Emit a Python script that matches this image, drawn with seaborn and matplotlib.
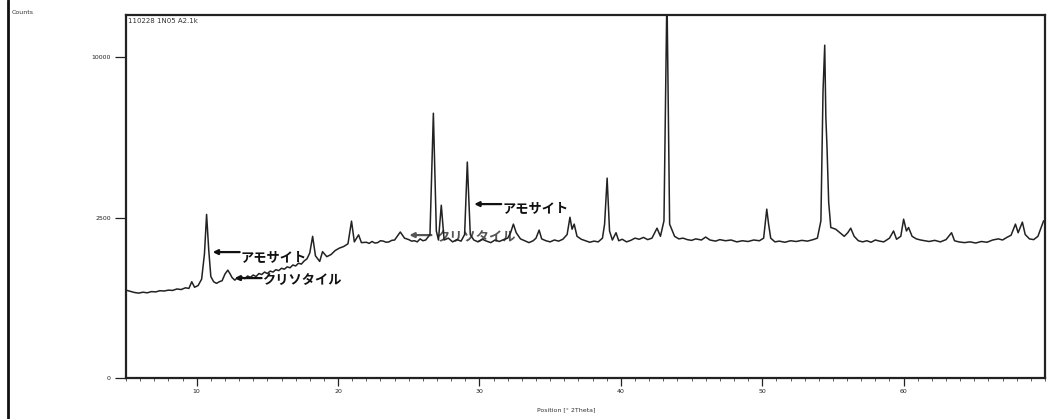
import numpy as np
import pandas as pd
import matplotlib
matplotlib.use("Agg")
import matplotlib.pyplot as plt
import seaborn as sns

# ---- data ----
two_theta = [5.0, 5.3, 5.6, 5.9, 6.2, 6.5, 6.8, 7.1, 7.4, 7.7, 8.0, 8.3, 8.6, 8.9, 9.2, 9.45, 9.65, 9.85,
             10.1, 10.35, 10.55, 10.7, 10.85, 11.0, 11.2, 11.4, 11.6, 11.8, 12.0, 12.2, 12.35, 12.5, 12.7,
             12.85, 13.0, 13.2, 13.4, 13.6, 13.8, 14.0, 14.2, 14.4, 14.6, 14.8, 15.0, 15.2, 15.4, 15.6,
             15.8, 16.0, 16.2, 16.4, 16.6, 16.8, 17.0, 17.2, 17.4, 17.6, 17.8, 18.0, 18.2, 18.4, 18.7, 18.9,
             19.2, 19.5, 19.8, 20.1, 20.4, 20.7, 20.95, 21.15, 21.45, 21.65, 22.0, 22.2, 22.4, 22.6, 22.8,
             23.0, 23.2, 23.4, 23.6, 23.8, 24.0, 24.4, 24.7, 25.0, 25.2, 25.4, 25.6, 25.8, 26.0, 26.2, 26.5,
             26.74, 26.95, 27.1, 27.3, 27.5, 27.8, 28.1, 28.4, 28.7, 28.95, 29.14, 29.35, 29.6, 29.9, 30.2,
             30.5, 30.8, 31.1, 31.4, 31.7, 32.0, 32.2, 32.4, 32.6, 32.9, 33.2, 33.5, 33.8, 34.0, 34.22, 34.4,
             34.7, 35.0, 35.3, 35.6, 35.9, 36.2, 36.4, 36.55, 36.7, 36.9, 37.2, 37.5, 37.8, 38.1, 38.4, 38.7,
             38.85, 39.03, 39.2, 39.4, 39.66, 39.85, 40.1, 40.4, 40.7, 41.0, 41.3, 41.6, 41.9, 42.2, 42.56,
             42.8, 43.05, 43.26, 43.45, 43.8, 44.1, 44.4, 44.7, 45.0, 45.3, 45.7, 46.0, 46.3, 46.7, 47.0,
             47.4, 47.8, 48.2, 48.6, 49.0, 49.4, 49.8, 50.1, 50.32, 50.45, 50.6, 50.9, 51.2, 51.6, 52.0,
             52.4, 52.8, 53.2, 53.6, 53.9, 54.15, 54.3, 54.42, 54.5, 54.58, 54.7, 54.85, 55.0, 55.2, 55.5,
             55.8, 56.05, 56.26, 56.5, 56.8, 57.1, 57.4, 57.7, 58.0, 58.3, 58.6, 59.0, 59.29, 59.5, 59.8,
             60.0, 60.2, 60.35, 60.6, 60.9, 61.2, 61.5, 61.8, 62.2, 62.6, 63.0, 63.39, 63.6, 63.9, 64.3,
             64.7, 65.1, 65.5, 65.9, 66.3, 66.7, 67.0, 67.3, 67.6, 67.91, 68.1, 68.4, 68.6, 68.9, 69.2,
             69.5, 69.9]
counts = [750, 730, 710, 700, 715, 705, 725, 720, 740, 735, 750, 745, 770, 760, 790, 780, 900, 800,
          830, 950, 1500, 2600, 1600, 1000, 900, 870, 900, 920, 1050, 1130, 1060, 980, 930,
          970, 940, 990, 960, 1010, 985, 1030, 1000, 1060, 1040, 1090, 1060, 1110, 1090, 1140,
          1120, 1170, 1150, 1200, 1180, 1240, 1220, 1280, 1260, 1330, 1380, 1520, 1950, 1450, 1320, 1550,
          1430, 1480, 1580, 1640, 1680, 1750, 2390, 1800, 1990, 1780, 1790, 1760, 1810, 1770, 1780,
          1830, 1820, 1790, 1800, 1840, 1850, 2070, 1900, 1860, 1820, 1830, 1800, 1880, 1830, 1850, 2000,
          6810, 2100, 1850, 2900, 1850, 1900, 1800, 1860, 1820, 2000, 4530, 2000, 1850, 1800, 1870,
          1820, 1780, 1850, 1810, 1860, 1900, 2050, 2300, 2050, 1880, 1830, 1780, 1830, 1900, 2125, 1880,
          1830, 1800, 1850, 1820, 1870, 2000, 2510, 2150, 2300, 1950, 1870, 1830, 1790, 1820, 1800, 1900,
          2300, 3880, 2100, 1850, 2050, 1830, 1870, 1800, 1840, 1900, 1870, 1920, 1860, 1900, 2180,
          1950, 2400, 14500, 2300, 1950, 1880, 1900, 1860, 1840, 1880, 1850, 1930, 1850, 1820, 1860,
          1830, 1850, 1800, 1830, 1810, 1850, 1830, 1900, 2770, 2300, 1900, 1800, 1820, 1790, 1830,
          1810, 1840, 1820, 1860, 1900, 2400, 8000, 10760, 6600, 5200, 3000, 2200, 2180, 2150, 2050,
          1950, 2050, 2180, 1950, 1830, 1800, 1830, 1790, 1850, 1820, 1800, 1900, 2100, 1870, 1950,
          2450, 2100, 2200, 1950, 1880, 1850, 1830, 1810, 1840, 1800, 1860, 2050, 1830, 1800, 1780,
          1800, 1770, 1810, 1790, 1850, 1880, 1850, 1920, 1980, 2300, 2050, 2360, 2000, 1880, 1860,
          1950, 2400]

y_ticks = [0, 2500, 10000]
x_ticks = [10, 20, 30, 40, 50, 60]

df = pd.DataFrame({"two_theta": two_theta, "counts": counts})

sns.set_style("white")
plt.rcParams["font.family"] = ["DejaVu Sans"]
JP = ["Noto Sans CJK JP", "DejaVu Sans"]

fig = plt.figure(figsize=(10.47, 4.19), dpi=100)
ax = fig.add_axes([126 / 1047, 1 - 378 / 419, (1045 - 126) / 1047, (378 - 15) / 419])

sns.lineplot(data=df, x="two_theta", y="counts", ax=ax, color="#222222", linewidth=1.1, zorder=3)

ax.set_yscale("function", functions=(lambda v: np.sqrt(np.maximum(v, 0)), lambda v: np.square(v)))
ax.set_xlim(5, 70)
ax.set_ylim(0, 12800)
ax.set_yticks(y_ticks)
ax.set_yticklabels([str(t) for t in y_ticks])
ax.set_xticks(x_ticks)
ax.set_xticks(np.arange(5, 71, 1), minor=True)
ax.set_xlabel("")
ax.set_ylabel("")

for s in ax.spines.values():
    s.set_visible(True)
    s.set_color("#222222")
    s.set_linewidth(1.6)

ax.tick_params(axis="both", which="major", direction="out", length=6, width=0.9,
               labelsize=4.5, colors="#222222", pad=2, bottom=True, left=True)
ax.tick_params(axis="y", which="major", length=8, pad=3)
ax.tick_params(axis="x", which="minor", direction="out", length=2.5, width=0.6, colors="#444444", bottom=True)
ax.grid(False)

# annotations
arrow_kw = dict(arrowstyle="-|>", color="#111111", lw=1.6, mutation_scale=7, shrinkA=0, shrinkB=0)
txt_kw = dict(family=JP, fontsize=9.5, fontweight="bold", va="center", ha="left")
ax.annotate("", xy=(11.13, 1540), xytext=(13.04, 1540), arrowprops=arrow_kw, zorder=4)
ax.text(13.12, 1420, "アモサイト", color="#111111", zorder=4, **txt_kw)

ax.annotate("", xy=(12.68, 970), xytext=(14.59, 970), arrowprops=arrow_kw, zorder=4)
ax.text(14.66, 932, "クリソタイル", color="#111111", zorder=4, **txt_kw)

ax.annotate("", xy=(29.63, 2938), xytext=(31.54, 2938), arrowprops=arrow_kw, zorder=4)
ax.text(31.61, 2804, "アモサイト", color="#111111", zorder=4, **txt_kw)

ax.annotate("", xy=(25.04, 1984), xytext=(26.6, 1984), arrowprops=dict(arrow_kw, color="#555555"), zorder=2)
ax.text(26.95, 1930, "クリソタイル", color="#555555", zorder=2, **txt_kw)

ax.text(0.002, 0.993, "110228 1N05 A2.1k", transform=ax.transAxes, fontsize=5, va="top", ha="left",
        color="#333333")

fig.text(12 / 1047, 1 - 13 / 419, "Counts", fontsize=4.5, va="center", ha="left", color="#333333")
fig.text(566 / 1047, 1 - 410 / 419, "Position [° 2Theta]", fontsize=4.5, va="center", ha="center",
         color="#333333")

# scanned page left border
fig.add_artist(plt.Line2D([8 / 1047, 8 / 1047], [0, 1], transform=fig.transFigure, color="#111111", lw=2))

fig.savefig("out.png", dpi=100, facecolor="white")
